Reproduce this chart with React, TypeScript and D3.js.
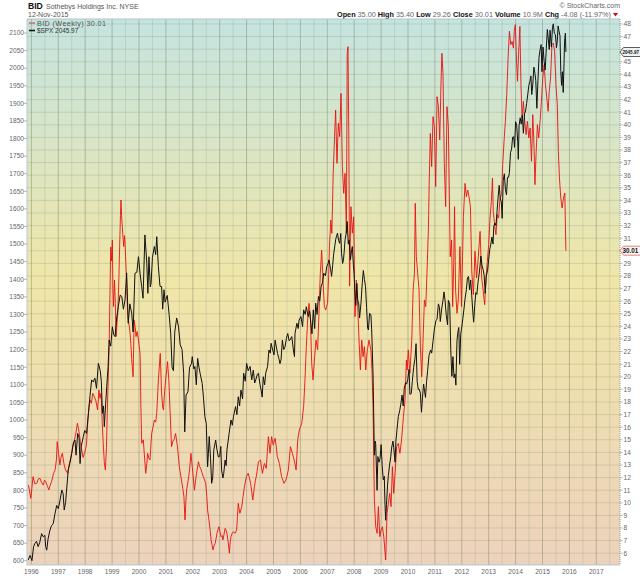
import * as d3 from 'd3';

// ---- data (decimal year, weekly close) ----
const spxWeekly: [number, number][] = [
  [1995.88, 602], [1995.95, 615], [1996.02, 600], [1996.08, 640], [1996.13, 649], [1996.19, 655],
  [1996.25, 640], [1996.31, 652], [1996.38, 677], [1996.44, 668], [1996.5, 672], [1996.53, 640],
  [1996.57, 630], [1996.62, 662], [1996.69, 687], [1996.75, 700], [1996.81, 705], [1996.88, 735],
  [1996.94, 757], [1997.0, 748], [1997.06, 770], [1997.13, 801], [1997.18, 790], [1997.22, 744],
  [1997.27, 765], [1997.32, 812], [1997.37, 858], [1997.44, 880], [1997.5, 905], [1997.56, 935],
  [1997.62, 943], [1997.66, 900], [1997.72, 962], [1997.77, 950], [1997.81, 876], [1997.85, 924],
  [1997.93, 953], [1997.98, 970], [1998.05, 962], [1998.12, 1019], [1998.18, 1070], [1998.24, 1114],
  [1998.3, 1108], [1998.36, 1119], [1998.42, 1090], [1998.49, 1161], [1998.56, 1140], [1998.6, 1110],
  [1998.64, 1019], [1998.68, 1040], [1998.71, 981], [1998.76, 1045], [1998.8, 1095], [1998.85, 1150],
  [1998.89, 1227], [1998.95, 1210], [1999.01, 1265], [1999.06, 1243], [1999.11, 1237], [1999.17, 1290],
  [1999.23, 1322], [1999.3, 1355], [1999.36, 1351], [1999.42, 1315], [1999.48, 1341], [1999.54, 1418],
  [1999.6, 1275], [1999.66, 1330], [1999.73, 1303], [1999.78, 1250], [1999.85, 1417], [1999.92, 1420],
  [1999.98, 1464], [2000.04, 1417], [2000.1, 1379], [2000.15, 1346], [2000.22, 1526], [2000.29, 1445],
  [2000.33, 1360], [2000.37, 1464], [2000.42, 1378], [2000.45, 1389], [2000.5, 1462], [2000.57, 1493],
  [2000.62, 1470], [2000.66, 1521], [2000.72, 1436], [2000.78, 1380], [2000.84, 1379], [2000.88, 1315],
  [2000.93, 1370], [2000.97, 1335], [2001.05, 1354], [2001.12, 1300], [2001.18, 1245], [2001.23, 1150],
  [2001.28, 1140], [2001.33, 1250], [2001.4, 1290], [2001.47, 1265], [2001.53, 1215], [2001.6, 1200],
  [2001.66, 1133], [2001.7, 966], [2001.75, 1071], [2001.82, 1080], [2001.88, 1150], [2001.95, 1160],
  [2001.98, 1180], [2002.04, 1145], [2002.08, 1152], [2002.13, 1100], [2002.18, 1175], [2002.23, 1150],
  [2002.27, 1133], [2002.35, 1104], [2002.4, 1060], [2002.45, 1009], [2002.5, 990], [2002.55, 867],
  [2002.58, 905], [2002.61, 953], [2002.66, 890], [2002.7, 820], [2002.74, 835], [2002.78, 915],
  [2002.85, 943], [2002.9, 915], [2002.95, 895], [2003.0, 896], [2003.04, 925], [2003.07, 858],
  [2003.12, 835], [2003.15, 848], [2003.2, 886], [2003.24, 870], [2003.27, 915], [2003.35, 962],
  [2003.42, 1000], [2003.47, 985], [2003.51, 1009], [2003.59, 1038], [2003.64, 1015], [2003.69, 1066],
  [2003.74, 1040], [2003.79, 1085], [2003.85, 1060], [2003.89, 1133], [2003.95, 1110], [2004.0, 1161],
  [2004.06, 1140], [2004.13, 1152], [2004.19, 1114], [2004.25, 1142], [2004.3, 1105], [2004.34, 1114],
  [2004.4, 1130], [2004.44, 1133], [2004.5, 1100], [2004.54, 1085], [2004.58, 1065], [2004.62, 1123],
  [2004.67, 1100], [2004.71, 1133], [2004.78, 1152], [2004.83, 1199], [2004.88, 1190], [2004.91, 1218],
  [2004.97, 1199], [2005.02, 1185], [2005.06, 1227], [2005.1, 1210], [2005.15, 1189], [2005.2, 1175],
  [2005.24, 1160], [2005.28, 1171], [2005.33, 1227], [2005.38, 1200], [2005.43, 1208], [2005.48, 1232],
  [2005.53, 1246], [2005.58, 1225], [2005.61, 1227], [2005.68, 1237], [2005.74, 1199], [2005.78, 1180],
  [2005.8, 1246], [2005.87, 1275], [2005.92, 1260], [2005.95, 1284], [2006.02, 1294], [2006.08, 1265],
  [2006.12, 1313], [2006.18, 1300], [2006.22, 1322], [2006.29, 1294], [2006.34, 1310], [2006.39, 1275],
  [2006.43, 1245], [2006.48, 1313], [2006.53, 1260], [2006.57, 1332], [2006.62, 1300], [2006.67, 1351],
  [2006.72, 1338], [2006.77, 1379], [2006.82, 1390], [2006.87, 1417], [2006.93, 1410], [2006.98, 1436],
  [2007.03, 1445], [2007.06, 1455], [2007.12, 1430], [2007.16, 1408], [2007.2, 1440], [2007.24, 1474],
  [2007.28, 1495], [2007.31, 1512], [2007.35, 1525], [2007.38, 1531], [2007.42, 1510], [2007.46, 1502],
  [2007.5, 1530], [2007.53, 1474], [2007.57, 1445], [2007.6, 1455], [2007.63, 1480], [2007.66, 1512],
  [2007.7, 1530], [2007.74, 1564], [2007.78, 1500], [2007.81, 1512], [2007.86, 1455], [2007.9, 1480],
  [2007.93, 1493], [2007.97, 1440], [2008.0, 1411], [2008.03, 1360], [2008.06, 1325], [2008.1, 1388],
  [2008.13, 1341], [2008.17, 1330], [2008.2, 1290], [2008.25, 1330], [2008.3, 1390], [2008.34, 1425],
  [2008.38, 1400], [2008.42, 1380], [2008.46, 1320], [2008.5, 1260], [2008.53, 1256], [2008.57, 1303],
  [2008.62, 1300], [2008.65, 1256], [2008.7, 1133], [2008.75, 900], [2008.78, 940], [2008.8, 930],
  [2008.85, 800], [2008.88, 896], [2008.92, 880], [2008.96, 890], [2009.0, 930], [2009.04, 870],
  [2009.08, 830], [2009.12, 840], [2009.14, 770], [2009.17, 715], [2009.2, 760], [2009.24, 815],
  [2009.27, 842], [2009.31, 869], [2009.36, 896], [2009.39, 920], [2009.44, 940], [2009.47, 921],
  [2009.52, 880], [2009.55, 940], [2009.6, 980], [2009.64, 1010], [2009.69, 1026], [2009.73, 1044],
  [2009.78, 1071], [2009.82, 1040], [2009.86, 1090], [2009.91, 1106], [2009.95, 1102], [2009.99, 1115],
  [2010.04, 1144], [2010.07, 1073], [2010.12, 1075], [2010.16, 1109], [2010.21, 1150], [2010.26, 1175],
  [2010.3, 1217], [2010.34, 1110], [2010.38, 1087], [2010.42, 1087], [2010.46, 1076], [2010.5, 1022],
  [2010.54, 1065], [2010.58, 1102], [2010.62, 1080], [2010.65, 1064], [2010.69, 1109], [2010.73, 1140],
  [2010.78, 1183], [2010.84, 1199], [2010.88, 1190], [2010.93, 1224], [2010.98, 1258], [2011.04, 1283],
  [2011.08, 1286], [2011.13, 1330], [2011.17, 1320], [2011.2, 1280], [2011.25, 1315], [2011.3, 1340],
  [2011.34, 1364], [2011.38, 1338], [2011.42, 1300], [2011.47, 1270], [2011.5, 1340], [2011.55, 1330],
  [2011.59, 1199], [2011.63, 1124], [2011.67, 1180], [2011.71, 1120], [2011.75, 1131], [2011.78, 1099],
  [2011.82, 1225], [2011.86, 1253], [2011.89, 1263], [2011.92, 1158], [2011.96, 1244], [2011.99, 1258],
  [2012.04, 1289], [2012.08, 1315], [2012.12, 1344], [2012.17, 1370], [2012.21, 1404], [2012.25, 1408],
  [2012.29, 1370], [2012.33, 1398], [2012.37, 1353], [2012.4, 1318], [2012.44, 1278], [2012.48, 1325],
  [2012.52, 1362], [2012.56, 1357], [2012.6, 1390], [2012.63, 1406], [2012.67, 1432], [2012.71, 1466],
  [2012.75, 1440], [2012.79, 1428], [2012.83, 1412], [2012.87, 1360], [2012.91, 1409], [2012.96, 1426],
  [2013.0, 1457], [2013.04, 1485], [2013.08, 1500], [2013.12, 1520], [2013.16, 1500], [2013.19, 1551],
  [2013.23, 1560], [2013.27, 1553], [2013.31, 1593], [2013.35, 1633], [2013.39, 1667], [2013.43, 1630],
  [2013.47, 1620], [2013.5, 1573], [2013.54, 1680], [2013.58, 1700], [2013.62, 1656], [2013.66, 1640],
  [2013.7, 1690], [2013.74, 1690], [2013.77, 1703], [2013.81, 1760], [2013.85, 1770], [2013.89, 1804],
  [2013.93, 1805], [2013.96, 1775], [2014.0, 1848], [2014.04, 1838], [2014.08, 1790], [2014.1, 1741],
  [2014.13, 1838], [2014.17, 1859], [2014.21, 1841], [2014.25, 1866], [2014.29, 1815], [2014.33, 1870],
  [2014.37, 1878], [2014.41, 1900], [2014.45, 1924], [2014.49, 1950], [2014.53, 1962], [2014.57, 1978],
  [2014.6, 1925], [2014.64, 1955], [2014.68, 2003], [2014.72, 1985], [2014.75, 1965], [2014.79, 1886],
  [2014.83, 1964], [2014.87, 2031], [2014.91, 2052], [2014.95, 2067], [2014.98, 1990], [2015.02, 2060],
  [2015.06, 2020], [2015.1, 1995], [2015.14, 2055], [2015.18, 2110], [2015.22, 2080], [2015.25, 2053],
  [2015.28, 2108], [2015.33, 2060], [2015.37, 2115], [2015.4, 2126], [2015.44, 2099], [2015.48, 2095],
  [2015.52, 2058], [2015.55, 2077], [2015.58, 2120], [2015.62, 2103], [2015.65, 2092], [2015.68, 1990],
  [2015.71, 1951], [2015.74, 1990], [2015.77, 1931], [2015.8, 2014], [2015.82, 2075], [2015.85, 2100],
  [2015.87, 2045.97],
];

const bidWeekly: [number, number][] = [
  [1995.89, 11.4], [1995.98, 10.35], [1996.06, 12.07], [1996.13, 11.5], [1996.2, 11.55], [1996.26, 11.9],
  [1996.32, 11.94], [1996.38, 11.6], [1996.44, 11.41], [1996.49, 11.8], [1996.53, 11.68], [1996.6, 11.3],
  [1996.65, 11.02], [1996.7, 11.4], [1996.75, 11.68], [1996.82, 12.3], [1996.88, 12.6], [1996.93, 13.4],
  [1996.96, 14.85], [1997.01, 13.93], [1997.06, 13.0], [1997.1, 13.6], [1997.15, 13.93], [1997.21, 13.1],
  [1997.27, 12.6], [1997.35, 12.34], [1997.41, 13.1], [1997.47, 13.66], [1997.53, 14.4], [1997.6, 14.99],
  [1997.66, 15.6], [1997.71, 16.31], [1997.75, 15.9], [1997.78, 15.51], [1997.83, 14.6], [1997.87, 14.2],
  [1997.92, 13.6], [1997.97, 13.93], [1998.02, 14.3], [1998.05, 14.72], [1998.1, 16.5], [1998.14, 17.6],
  [1998.18, 18.16], [1998.23, 17.9], [1998.28, 18.69], [1998.34, 18.4], [1998.39, 18.16], [1998.46, 17.37],
  [1998.51, 18.95], [1998.55, 18.3], [1998.59, 18.69], [1998.63, 16.5], [1998.67, 14.72], [1998.71, 13.2],
  [1998.75, 12.6], [1998.79, 14.4], [1998.82, 17.1], [1998.86, 20.2], [1998.89, 22.4], [1998.92, 26.5],
  [1998.95, 30.3], [1998.98, 29.2], [1999.01, 30.86], [1999.03, 27.0], [1999.05, 25.57], [1999.09, 27.68],
  [1999.12, 25.8], [1999.15, 23.19], [1999.18, 24.2], [1999.21, 25.0], [1999.25, 27.6], [1999.28, 30.33],
  [1999.31, 32.8], [1999.33, 34.03], [1999.36, 32.5], [1999.38, 31.9], [1999.43, 30.33], [1999.46, 31.2],
  [1999.48, 30.72], [1999.51, 29.0], [1999.54, 27.68], [1999.57, 25.4], [1999.6, 24.5], [1999.64, 24.0],
  [1999.67, 23.45], [1999.7, 22.5], [1999.73, 21.34], [1999.76, 20.6], [1999.78, 20.0], [1999.82, 24.5],
  [1999.86, 23.9], [1999.89, 23.19], [1999.93, 23.6], [1999.98, 22.92], [2000.04, 21.86], [2000.07, 17.8],
  [2000.1, 14.72], [2000.16, 15.0], [2000.2, 13.8], [2000.25, 12.34], [2000.29, 13.1], [2000.32, 13.93],
  [2000.37, 13.5], [2000.41, 13.4], [2000.47, 15.5], [2000.52, 16.0], [2000.57, 16.57], [2000.62, 16.4],
  [2000.66, 17.1], [2000.72, 19.75], [2000.79, 21.86], [2000.84, 18.69], [2000.88, 17.6], [2000.91, 17.37],
  [2000.95, 18.8], [2000.99, 19.75], [2001.06, 21.2], [2001.11, 19.75], [2001.16, 17.0], [2001.21, 14.46],
  [2001.26, 14.9], [2001.3, 15.0], [2001.36, 15.5], [2001.43, 14.46], [2001.5, 12.87], [2001.54, 12.3],
  [2001.58, 11.81], [2001.63, 11.1], [2001.67, 10.49], [2001.71, 8.64], [2001.74, 10.0], [2001.77, 11.02],
  [2001.83, 11.81], [2001.88, 12.6], [2001.93, 13.93], [2001.98, 12.87], [2002.06, 11.0], [2002.1, 11.7],
  [2002.14, 12.34], [2002.21, 13.26], [2002.25, 12.9], [2002.29, 12.73], [2002.34, 12.4], [2002.39, 12.07],
  [2002.44, 11.8], [2002.48, 11.54], [2002.52, 10.5], [2002.55, 9.43], [2002.6, 8.64], [2002.64, 7.9],
  [2002.68, 7.05], [2002.72, 6.6], [2002.75, 6.26], [2002.79, 6.6], [2002.83, 6.78], [2002.87, 7.2],
  [2002.9, 7.58], [2002.94, 7.9], [2002.97, 8.1], [2003.01, 7.7], [2003.05, 7.31], [2003.09, 7.4],
  [2003.12, 7.05], [2003.16, 7.5], [2003.2, 7.97], [2003.24, 7.8], [2003.27, 7.58], [2003.32, 6.8],
  [2003.36, 6.0], [2003.39, 6.9], [2003.42, 7.31], [2003.47, 7.6], [2003.51, 7.71], [2003.57, 7.58],
  [2003.63, 7.84], [2003.66, 8.9], [2003.69, 9.96], [2003.72, 9.5], [2003.75, 9.17], [2003.82, 9.7],
  [2003.87, 10.5], [2003.92, 11.28], [2003.99, 12.07], [2004.06, 12.34], [2004.1, 12.0], [2004.15, 11.54],
  [2004.19, 10.9], [2004.23, 10.22], [2004.29, 11.28], [2004.33, 11.8], [2004.37, 12.2], [2004.44, 13.26],
  [2004.52, 13.4], [2004.55, 12.8], [2004.59, 12.34], [2004.66, 13.13], [2004.73, 12.73], [2004.77, 14.0],
  [2004.81, 15.25], [2004.87, 13.93], [2004.93, 15.25], [2004.99, 14.59], [2005.06, 15.12], [2005.1, 14.5],
  [2005.14, 13.66], [2005.22, 13.13], [2005.3, 12.07], [2005.35, 11.8], [2005.39, 11.54], [2005.46, 11.81],
  [2005.5, 12.1], [2005.55, 12.6], [2005.59, 13.5], [2005.63, 14.46], [2005.7, 13.93], [2005.77, 13.4],
  [2005.84, 12.6], [2005.9, 14.99], [2005.96, 15.78], [2006.05, 16.31], [2006.12, 17.63], [2006.17, 19.75],
  [2006.22, 22.39], [2006.27, 24.51], [2006.32, 25.83], [2006.37, 24.77], [2006.42, 21.07], [2006.47, 19.75],
  [2006.52, 21.33], [2006.58, 22.92], [2006.64, 22.13], [2006.69, 25.04], [2006.74, 28.21], [2006.79, 30.06],
  [2006.84, 27.68], [2006.89, 25.57], [2006.94, 25.3], [2007.01, 25.83], [2007.05, 28.0], [2007.08, 30.33],
  [2007.13, 32.44], [2007.17, 31.38], [2007.22, 36.15], [2007.27, 39.06], [2007.31, 41.17], [2007.36, 36.94],
  [2007.41, 40.12], [2007.46, 39.06], [2007.51, 42.5], [2007.56, 36.68], [2007.61, 34.56], [2007.66, 36.15],
  [2007.71, 31.38], [2007.74, 45.67], [2007.77, 46.2], [2007.8, 38.8], [2007.83, 27.2], [2007.86, 31.5],
  [2007.88, 33.5], [2007.93, 31.4], [2007.98, 32.7], [2008.03, 24.77], [2008.08, 27.68], [2008.13, 25.57],
  [2008.18, 22.92], [2008.23, 20.54], [2008.28, 22.92], [2008.33, 21.6], [2008.38, 22.39], [2008.43, 20.54],
  [2008.48, 22.0], [2008.55, 22.92], [2008.62, 22.13], [2008.66, 20.5], [2008.7, 17.63], [2008.75, 10.22],
  [2008.8, 8.1], [2008.85, 7.58], [2008.9, 9.7], [2008.95, 7.31], [2009.0, 7.84], [2009.05, 8.1],
  [2009.1, 7.3], [2009.14, 6.26], [2009.17, 5.46], [2009.22, 9.17], [2009.27, 9.96], [2009.32, 10.75],
  [2009.37, 9.7], [2009.42, 12.87], [2009.47, 10.75], [2009.52, 12.34], [2009.58, 14.46], [2009.64, 14.72],
  [2009.7, 13.93], [2009.76, 14.99], [2009.83, 16.84], [2009.89, 18.16], [2009.94, 21.33], [2009.97, 20.54],
  [2010.01, 22.13], [2010.07, 20.28], [2010.14, 22.92], [2010.19, 26.89], [2010.24, 28.21], [2010.27, 33.77],
  [2010.31, 29.53], [2010.36, 28.21], [2010.41, 26.89], [2010.46, 22.39], [2010.51, 20.01], [2010.56, 22.92],
  [2010.61, 26.1], [2010.66, 25.57], [2010.71, 28.48], [2010.76, 31.9], [2010.79, 35.62], [2010.83, 39.32],
  [2010.88, 36.68], [2010.93, 40.65], [2010.98, 39.85], [2011.03, 35.1], [2011.08, 42.23], [2011.13, 41.44],
  [2011.18, 38.8], [2011.23, 43.56], [2011.26, 45.67], [2011.3, 44.08], [2011.35, 36.94], [2011.4, 33.5],
  [2011.45, 41.44], [2011.5, 39.85], [2011.54, 34.03], [2011.57, 29.53], [2011.62, 30.86], [2011.66, 25.57],
  [2011.7, 29.0], [2011.73, 33.5], [2011.77, 26.89], [2011.82, 25.04], [2011.87, 26.1], [2011.93, 30.33],
  [2011.99, 25.57], [2012.06, 32.71], [2012.12, 35.35], [2012.17, 34.3], [2012.22, 34.82], [2012.27, 34.3],
  [2012.32, 33.5], [2012.37, 28.37], [2012.43, 26.52], [2012.49, 29.96], [2012.55, 27.84], [2012.61, 29.43],
  [2012.68, 31.54], [2012.74, 27.84], [2012.8, 26.78], [2012.85, 25.72], [2012.9, 27.84], [2012.95, 29.16],
  [2013.0, 30.49], [2013.05, 32.6], [2013.1, 33.93], [2013.14, 35.78], [2013.17, 33.13], [2013.22, 32.07],
  [2013.27, 31.28], [2013.32, 32.87], [2013.37, 32.6], [2013.42, 34.19], [2013.48, 34.45], [2013.52, 36.84],
  [2013.57, 38.69], [2013.62, 40.28], [2013.67, 42.39], [2013.72, 45.3], [2013.77, 47.42], [2013.82, 46.36],
  [2013.87, 46.62], [2013.92, 46.09], [2013.95, 47.42], [2013.99, 47.95], [2014.03, 45.3], [2014.07, 43.45],
  [2014.11, 45.57], [2014.16, 47.81], [2014.2, 43.19], [2014.24, 40.54], [2014.29, 41.86], [2014.34, 40.28],
  [2014.39, 39.22], [2014.44, 40.28], [2014.49, 38.95], [2014.54, 39.75], [2014.59, 37.1], [2014.64, 40.81],
  [2014.69, 37.89], [2014.72, 35.25], [2014.76, 37.63], [2014.81, 40.01], [2014.86, 38.95], [2014.91, 40.28],
  [2014.96, 41.86], [2015.01, 43.71], [2015.06, 44.77], [2015.11, 43.19], [2015.16, 42.13], [2015.21, 41.07],
  [2015.25, 42.66], [2015.3, 43.71], [2015.35, 46.36], [2015.4, 46.49], [2015.45, 45.83], [2015.5, 43.19],
  [2015.55, 41.6], [2015.59, 37.89], [2015.63, 35.78], [2015.68, 34.19], [2015.73, 33.4], [2015.78, 34.19],
  [2015.83, 34.59], [2015.87, 30.01],
];

const yearTicks = d3.range(1996, 2018);
const spxTicks = d3.range(600, 2101, 50);
const bidTicks = d3.range(6, 49, 1);

const statsLine: [string, string][] = [
  ['Open', '35.00'], ['High', '35.40'], ['Low', '29.26'], ['Close', '30.01'],
  ['Volume', '10.9M'], ['Chg', '-4.08 (-11.97%)'],
];

const W = 640;
const H = 576;
const plot = { left: 27, right: 620, top: 19, bottom: 565 };

export default function App() {
  const x = d3.scaleLinear().domain([1996, 2017]).range([31.4, 596.3]);
  const ySpx = d3.scaleLinear().domain([600, 2100]).range([560.7, 33]);
  const yBid = d3.scaleLinear().domain([6, 48]).range([553.2, 24]);

  const spxLine = d3
    .line<[number, number]>()
    .x((d) => x(d[0]))
    .y((d) => ySpx(d[1]));
  const bidLine = d3
    .line<[number, number]>()
    .x((d) => x(d[0]))
    .y((d) => yBid(d[1]));

  const halfYears = d3.range(1995.5, 2018, 1);
  const font = 'Liberation Sans, Arial, sans-serif';

  const lastSpx = spxWeekly[spxWeekly.length - 1][1];
  const lastBid = bidWeekly[bidWeekly.length - 1][1];

  // right-axis labels covered by the last-value tags are not shown
  const tagYs = [ySpx(lastSpx), yBid(lastBid)];
  const visibleBidTicks = bidTicks.filter((t) => tagYs.every((ty) => Math.abs(yBid(t) - ty) > 5));

  const tag = (y: number) =>
    `M${plot.right},${y} L${plot.right + 3.5},${y - 4.5} L${W + 2},${y - 4.5} L${W + 2},${y + 4.5} L${plot.right + 3.5},${y + 4.5} Z`;

  return (
    <svg
      width={W}
      height={H}
      style={{ position: 'absolute', left: 0, top: 0, background: '#fff' }}
      fontFamily={font}
    >
      <defs>
        <linearGradient id="bg" x1="0" y1="0" x2="0" y2="1">
          <stop offset="0" stopColor="rgb(196,228,224)" />
          <stop offset="0.48" stopColor="rgb(240,230,168)" />
          <stop offset="1" stopColor="rgb(236,210,188)" />
        </linearGradient>
        <clipPath id="plotClip">
          <rect
            x={plot.left}
            y={plot.top}
            width={plot.right - plot.left}
            height={plot.bottom - plot.top}
          />
        </clipPath>
      </defs>

      {/* ---------- header ---------- */}
      <text x={28} y={9} fontSize={8.6} fontWeight="bold" fill="#111">
        BID
      </text>
      <text x={46} y={9} fontSize={7} fill="#555">
        Sothebys Holdings Inc.  NYSE
      </text>
      <text x={28} y={17} fontSize={7} fill="#555">
        12-Nov-2015
      </text>
      <text x={620} y={8} fontSize={7} fill="#666" textAnchor="end">
        © StockCharts.com
      </text>
      <text x={611} y={17} fontSize={7.4} textAnchor="end" textLength={274} lengthAdjust="spacingAndGlyphs">
        {statsLine.map(([k, v]) => (
          <tspan key={k}>
            <tspan fontWeight="bold" fill="#111">{k} </tspan>
            <tspan fill="#666">{v} </tspan>
          </tspan>
        ))}
      </text>
      <path d="M613,13 L618,13 L615.5,16.5 Z" fill="#d0021b" />

      {/* ---------- plot background + grid ---------- */}
      <rect
        x={plot.left}
        y={plot.top}
        width={plot.right - plot.left}
        height={plot.bottom - plot.top}
        fill="url(#bg)"
      />
      <g clipPath="url(#plotClip)">
        {bidTicks.map((t) => (
          <line
            key={'h' + t}
            x1={plot.left}
            x2={plot.right}
            y1={yBid(t)}
            y2={yBid(t)}
            stroke="rgba(110,120,90,0.25)"
            strokeWidth={0.8}
          />
        ))}
        {halfYears.map((t) => (
          <line
            key={'m' + t}
            x1={x(t)}
            x2={x(t)}
            y1={plot.top}
            y2={plot.bottom}
            stroke="rgba(110,120,90,0.22)"
            strokeWidth={0.8}
          />
        ))}
        {yearTicks.map((t) => (
          <line
            key={'v' + t}
            x1={x(t)}
            x2={x(t)}
            y1={plot.top}
            y2={plot.bottom}
            stroke="rgba(100,115,85,0.42)"
            strokeWidth={0.9}
          />
        ))}

        {/* ---------- series ---------- */}
        <path d={bidLine(bidWeekly) ?? ''} fill="none" stroke="#e8100f" strokeWidth={0.9} />
        <path d={spxLine(spxWeekly) ?? ''} fill="none" stroke="#111" strokeWidth={1} />
      </g>

      {/* ---------- frame ---------- */}
      <line x1={plot.left} x2={plot.right} y1={plot.top} y2={plot.top} stroke="#b9c3c8" />
      <line x1={plot.left} x2={plot.left} y1={plot.top} y2={plot.bottom} stroke="#b9c9d3" />
      <line x1={plot.left} x2={plot.right} y1={plot.bottom} y2={plot.bottom} stroke="#b9c9d3" />
      <line
        x1={plot.right}
        x2={plot.right}
        y1={plot.top}
        y2={plot.bottom}
        stroke="#8a9aa6"
        strokeDasharray="1,1"
      />

      {/* ---------- legend ---------- */}
      <line x1={29} x2={35} y1={23} y2={23} stroke="#ee6a6a" strokeWidth={1.6} />
      <text x={37} y={25.5} fontSize={7.2} fill="#555" letterSpacing={0.4}>
        BID (Weekly) 30.01
      </text>
      <line x1={29} x2={35} y1={30.5} y2={30.5} stroke="#111" strokeWidth={1.6} />
      <text x={37} y={32.5} fontSize={6.4} fill="#333">
        $SPX 2045.97
      </text>

      {/* ---------- left axis ---------- */}
      {spxTicks.map((t) => (
        <g key={'l' + t}>
          <line x1={24} x2={27} y1={ySpx(t)} y2={ySpx(t)} stroke="#999" strokeWidth={0.7} />
          <text x={24} y={ySpx(t) + 2.3} fontSize={6.6} fill="#666" textAnchor="end">
            {t}
          </text>
        </g>
      ))}

      {/* ---------- right axis ---------- */}
      {bidTicks.map((t) => (
        <line key={'rt' + t} x1={620} x2={622.5} y1={yBid(t)} y2={yBid(t)} stroke="#999" strokeWidth={0.7} />
      ))}
      {visibleBidTicks.map((t) => (
        <text key={'r' + t} x={623.5} y={yBid(t) + 2.3} fontSize={6.6} fill="#666">
          {t}
        </text>
      ))}

      {/* ---------- bottom axis ---------- */}
      {yearTicks.map((t) => (
        <text key={'x' + t} x={x(t)} y={574} fontSize={6.6} fill="#666" textAnchor="middle">
          {t}
        </text>
      ))}

      {/* ---------- last value tags ---------- */}
      <path d={tag(ySpx(lastSpx))} fill="#eef3f2" stroke="#333" strokeWidth={0.8} />
      <text
        x={622.5}
        y={ySpx(lastSpx) + 2.2}
        fontSize={6.1}
        fontWeight="bold"
        fill="#111"
        textLength={16.5}
        lengthAdjust="spacingAndGlyphs"
      >
        {lastSpx.toFixed(2)}
      </text>
      <path d={tag(yBid(lastBid))} fill="#fbf6f0" stroke="#e06060" strokeWidth={0.8} />
      <text x={622.5} y={yBid(lastBid) + 2.3} fontSize={6.3} fontWeight="bold" fill="#111">
        {lastBid.toFixed(2)}
      </text>
    </svg>
  );
}
